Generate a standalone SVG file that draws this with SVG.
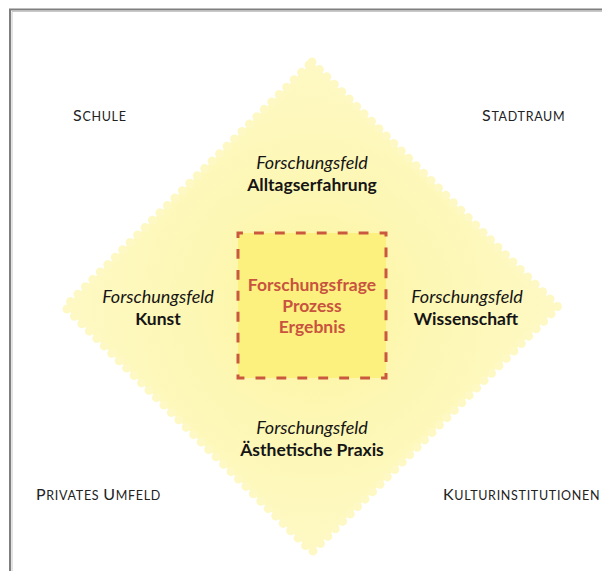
<svg xmlns="http://www.w3.org/2000/svg" width="602" height="571" viewBox="0 0 602 571">
<style>
.it{font-family:Lato,"Open Sans",sans-serif;font-style:italic;font-size:18px;fill:#151515;text-anchor:middle}
.bd{font-family:Lato,"Open Sans",sans-serif;font-weight:bold;font-size:17.5px;fill:#151515;text-anchor:middle}
.rd{font-family:Lato,"Open Sans",sans-serif;font-weight:bold;font-size:17.5px;fill:#c8533f;text-anchor:middle}
.sc{font-family:Lato,"Open Sans",sans-serif;font-size:16px;fill:#222222;letter-spacing:0.7px}
.sm{font-size:12.5px}
</style>
<defs>
<radialGradient id="glow" cx="312" cy="307" r="250" gradientUnits="userSpaceOnUse">
<stop offset="0" stop-color="#fcf49c"/>
<stop offset="0.45" stop-color="#fdf7b4"/>
<stop offset="1" stop-color="#fef9c4"/>
</radialGradient>
</defs>
<rect width="602" height="571" fill="#ffffff"/>
<g id="frame" fill="none">
<path d="M10 571 V9.5 H602" stroke="#7f7f7f" stroke-width="2"/>
<path d="M12 571 V11.5 H602" stroke="#c8c8c8" stroke-width="1"/>
</g>
<g id="diamond">
<polygon points="312,62 558,307 312,552 65,307" fill="url(#glow)"/>
<polygon points="312,62 558,307 312,552 65,307" fill="none" stroke="#fef9c4" stroke-width="9" stroke-linecap="round" stroke-dasharray="0 10.5"/>
</g>
<g id="center">
<rect x="238" y="233" width="148" height="145" fill="#fcf17e" stroke="#c9583f" stroke-width="3" pathLength="28" stroke-dasharray="0.47 0.53" stroke-dashoffset="0.235"/>
<text class="rd" x="312" y="291">Forschungsfrage</text>
<text class="rd" x="312" y="312">Prozess</text>
<text class="rd" x="312" y="333">Ergebnis</text>
</g>
<g id="feld-alltag">
<text class="it" x="312" y="169">Forschungsfeld</text>
<text class="bd" x="312" y="191">Alltagserfahrung</text>
</g>
<g id="feld-kunst">
<text class="it" x="158" y="303">Forschungsfeld</text>
<text class="bd" x="158" y="325">Kunst</text>
</g>
<g id="feld-wissenschaft">
<text class="it" x="467" y="303">Forschungsfeld</text>
<text class="bd" x="466" y="325">Wissenschaft</text>
</g>
<g id="feld-praxis">
<text class="it" x="312" y="434">Forschungsfeld</text>
<text class="bd" x="312" y="456">Ästhetische Praxis</text>
</g>
<g id="schule"><text class="sc" x="73" y="121">S<tspan class="sm">CHULE</tspan></text></g>
<g id="stadtraum"><text class="sc" x="482" y="121">S<tspan class="sm">TADTRAUM</tspan></text></g>
<g id="privat"><text class="sc" x="36" y="500">P<tspan class="sm">RIVATES </tspan>U<tspan class="sm">MFELD</tspan></text></g>
<g id="kultur"><text class="sc" x="443" y="500">K<tspan class="sm">ULTURINSTITUTIONEN</tspan></text></g>
</svg>
